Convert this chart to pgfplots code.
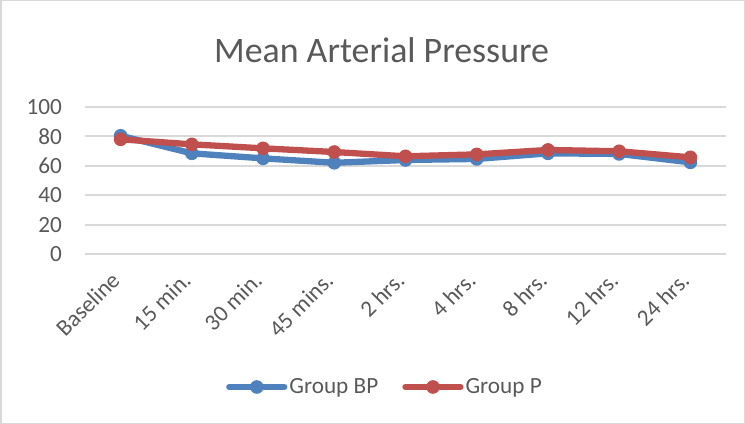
\documentclass[border=0pt]{standalone}
\usepackage{pgfplots}
\pgfplotsset{compat=1.18}
\usepackage{fontspec}
\setmainfont{Carlito}
\definecolor{bpblue}{HTML}{4F81BD}
\definecolor{pred}{HTML}{C0504D}
\definecolor{txt}{HTML}{595959}
\definecolor{gridc}{HTML}{D9D9D9}
\begin{document}
\begin{tikzpicture}
\draw[gridc, line width=1.5bp] (0.75bp,0.75bp) rectangle (744.25bp,423.25bp);
\useasboundingbox (0bp,0bp) rectangle (745bp,424bp);
\node[anchor=base, text=txt, font=\fontsize{36}{43}\selectfont, inner sep=0pt] at (381.5bp,361.3bp) {Mean Arterial Pressure};
\begin{axis}[
  at={(85bp,169.7bp)}, anchor=south west, scale only axis,
  width=641bp, height=147.6bp,
  xmin=-0.5, xmax=8.5, ymin=0, ymax=100,
  xtick={0,...,8},
  xticklabels={Baseline,15 min.,30 min.,45 mins.,2 hrs.,4 hrs.,8 hrs.,12 hrs.,24 hrs.},
  ytick={0,20,...,100},
  ymajorgrids, grid style={gridc, line width=1.8bp},
  axis line style={draw=none}, major tick length=0pt,
  tick label style={text=txt, font=\fontsize{23.3}{28}\selectfont},
  /pgf/number format/assume math mode=true,
  xticklabel style={xshift=-5bp, yshift=-22bp, rotate=45, anchor=east, inner sep=0pt},
  yticklabel style={anchor=east, xshift=-23bp, inner sep=0pt},
  clip=false,
  legend columns=2,
  legend style={draw=none, fill=none, at={(0.468,-0.899)}, anchor=center,
    font=\fontsize{23.3}{28}\selectfont, text=txt,
    /tikz/every even column/.append style={column sep=22bp},
    inner sep=0pt, cells={inner sep=2bp}},
  legend image code/.code={\draw[#1, line cap=round, mark repeat=2, mark phase=2] plot coordinates {(0bp,0bp) (27.5bp,0bp) (55bp,0bp)};},
  every axis plot/.append style={line width=6.3bp, mark=*, mark size=6.3bp, line join=round, line cap=round},
]
\addplot[color=bpblue, mark options={line width=1bp, fill=bpblue}] coordinates {
(0,80.3) (1,68.4) (2,65) (3,62) (4,63.9) (5,64.6) (6,68.4) (7,68) (8,62.3)};
\addlegendentry{Group BP}
\addplot[color=pred, mark options={line width=1bp, fill=pred}] coordinates {
(0,77.9) (1,74.5) (2,71.8) (3,69.3) (4,66.4) (5,67.7) (6,70.7) (7,69.8) (8,65.7)};
\addlegendentry{Group P}
\end{axis}
\end{tikzpicture}
\end{document}
